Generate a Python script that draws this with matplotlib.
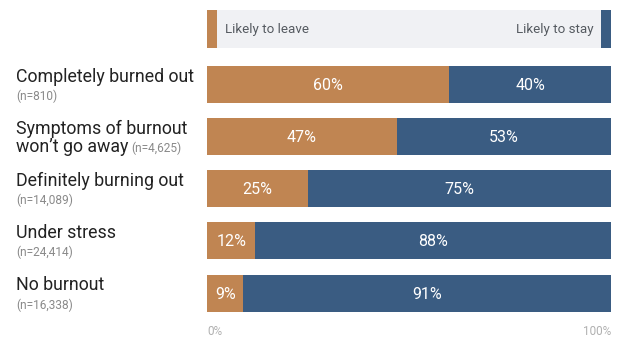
import matplotlib
matplotlib.use("Agg")
import matplotlib.pyplot as plt

# ---- data -----------------------------------------------------------------
labels = ["Completely burned out", "Symptoms of burnout\nwon\u2019t go away",
          "Definitely burning out", "Under stress", "No burnout"]
counts = ["(n=810)", "(n=4,625)", "(n=14,089)", "(n=24,414)", "(n=16,338)"]
leave = [60, 47, 25, 12, 9]
stay = [40, 53, 75, 88, 91]

ORANGE = "#C08552"
BLUE = "#3A5C82"
GRAY_BG = "#F0F1F4"
plt.rcParams["font.family"] = ["Roboto", "DejaVu Sans"]

W, H = 619, 337
fig = plt.figure(figsize=(W / 100, H / 100), dpi=100)
# axes spans the bar area horizontally; y is in pixels from top
ax = fig.add_axes([207 / W, 0, 404 / W, 1])
ax.set_xlim(0, 100)
ax.set_ylim(H, 0)
ax.axis("off")

# legend strip
ax.barh(29, 100, height=38, left=0, color=GRAY_BG)
ax.barh(29, 2.5, height=38, left=0, color=ORANGE)
ax.barh(29, 2.5, height=38, left=97.5, color=BLUE)
ax.text(4.5, 30, "Likely to leave", color="#555a60", fontsize=9.6, va="center")
ax.text(95.8, 30, "Likely to stay", color="#555a60", fontsize=9.6, va="center", ha="right")

centers = [84.5, 136.5, 188.5, 240.5, 293.5]
px = 100 / 404  # one pixel in data units
for i, (lab, n, lv, st) in enumerate(zip(labels, counts, leave, stay)):
    y = centers[i]
    ax.barh(y, lv, height=37, left=0, color=ORANGE)
    ax.barh(y, st, height=37, left=lv, color=BLUE)
    ax.text(lv / 2, y + 1, f"{lv}%", color="white", fontsize=11.5, ha="center", va="center")
    ax.text(lv + st / 2, y + 1, f"{st}%", color="white", fontsize=11.5, ha="center", va="center")
    x0 = -191 * px
    if "\n" in lab:
        first, second = lab.split("\n")
        ax.text(x0, y - 8, first, fontsize=12.8, color="#222222", va="center", clip_on=False)
        t = ax.text(x0, y + 11, second, fontsize=12.8, color="#222222", va="center", clip_on=False)
        fig.canvas.draw()
        bb = t.get_window_extent()
        xr = ax.transData.inverted().transform((bb.x1, 0))[0]
        ax.text(xr + 3 * px, y + 12, n, fontsize=8.6, color="#8a8a8a", va="center", clip_on=False)
    else:
        ax.text(x0, y - 8, lab, fontsize=12.8, color="#222222", va="center", clip_on=False)
        ax.text(x0, y + 12, n, fontsize=8.6, color="#8a8a8a", va="center", clip_on=False)

ax.text(0, 325, "0%", fontsize=8.5, color="#b0b0b0", ha="left", va="top", clip_on=False)
ax.text(100, 325, "100%", fontsize=8.5, color="#b0b0b0", ha="right", va="top", clip_on=False)

fig.savefig("out.png", dpi=100, facecolor="white")
